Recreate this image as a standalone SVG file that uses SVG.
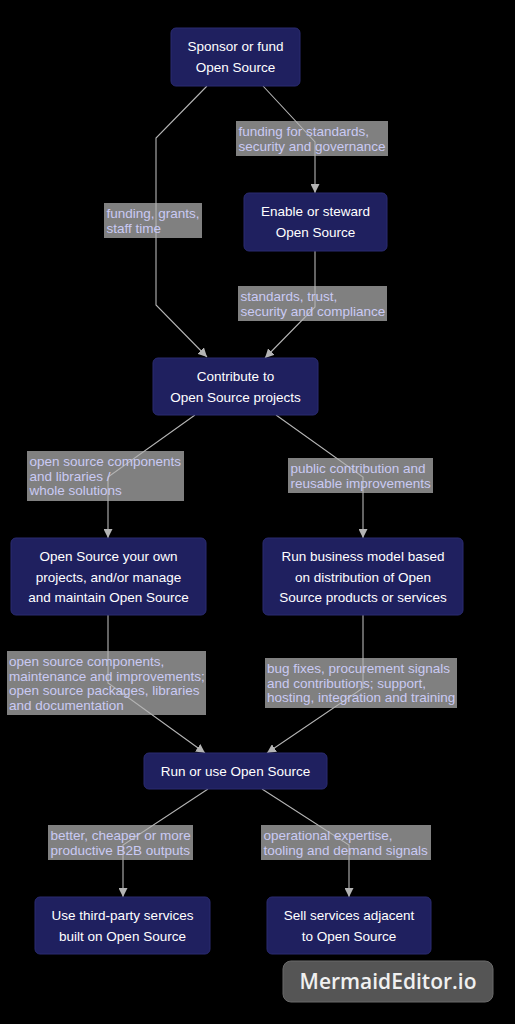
<svg xmlns="http://www.w3.org/2000/svg" width="515" height="1024" viewBox="0 0 515 1024">
<defs>
<style>
.node rect{fill:#1f205f;stroke:#2a2b70;stroke-width:1}
.node text{fill:#ffffff;font-family:"Liberation Sans",Arial,sans-serif;font-size:13.5px;text-anchor:middle}
.lbl rect{fill:#808080}
.lbl text{fill:#cacaf4;font-family:"Liberation Sans",Arial,sans-serif;font-size:13.5px}
.edge{fill:none;stroke:#b4b4b4;stroke-width:1.1}
</style>
<marker id="arr" viewBox="0 0 10 10" refX="10" refY="5" markerWidth="9" markerHeight="9" markerUnits="userSpaceOnUse" orient="auto">
<path d="M0,0 L10,5 L0,10 z" fill="#b4b4b4"/>
</marker>
</defs>
<rect x="0" y="0" width="515" height="1024" fill="#000"/>

<g id="label-backgrounds" class="lbl">
<rect x="104" y="203" width="98" height="35"/>
<rect x="236" y="121" width="152" height="35"/>
<rect x="238" y="286" width="149" height="35"/>
<rect x="27" y="451" width="157" height="50"/>
<rect x="288" y="458" width="145" height="35"/>
<rect x="7" y="651" width="199" height="64"/>
<rect x="265" y="658" width="192" height="50"/>
<rect x="48" y="825" width="145" height="35"/>
<rect x="261" y="825" width="170" height="35"/>
</g>

<g id="connectors">
<path class="edge" marker-end="url(#arr)" d="M207,86 L156,138 L156,305 L207,357"/>
<path class="edge" marker-end="url(#arr)" d="M263,86 L315,142 L315,193"/>
<path class="edge" marker-end="url(#arr)" d="M315,251 L315,307 L265,358"/>
<path class="edge" marker-end="url(#arr)" d="M195,415 L108,477 L108,538"/>
<path class="edge" marker-end="url(#arr)" d="M276,415 L363,477 L363,538"/>
<path class="edge" marker-end="url(#arr)" d="M108,615 L108,683 L205,753"/>
<path class="edge" marker-end="url(#arr)" d="M363,615 L363,688 L267,753"/>
<path class="edge" marker-end="url(#arr)" d="M208,789 L123,845 L123,897"/>
<path class="edge" marker-end="url(#arr)" d="M262,789 L349,845 L349,897"/>
</g>

<g id="edge-labels" class="lbl">
<text x="106.5" y="218">funding, grants,<tspan x="106.5" dy="14.5">staff time</tspan></text>
<text x="238.5" y="136">funding for standards,<tspan x="238.5" dy="14.5">security and governance</tspan></text>
<text x="240.5" y="301">standards, trust,<tspan x="240.5" dy="14.5">security and compliance</tspan></text>
<text x="29.5" y="466">open source components<tspan x="29.5" dy="14.5">and libraries /</tspan><tspan x="29.5" dy="14.5">whole solutions</tspan></text>
<text x="290.5" y="473">public contribution and<tspan x="290.5" dy="14.5">reusable improvements</tspan></text>
<text x="9" y="666">open source components,<tspan x="9" dy="14.5">maintenance and improvements;</tspan><tspan x="9" dy="14.5">open source packages, libraries</tspan><tspan x="9" dy="14.5">and documentation</tspan></text>
<text x="267" y="673">bug fixes, procurement signals<tspan x="267" dy="14.5">and contributions; support,</tspan><tspan x="267" dy="14.5">hosting, integration and training</tspan></text>
<text x="50.5" y="840">better, cheaper or more<tspan x="50.5" dy="14.5">productive B2B outputs</tspan></text>
<text x="263.5" y="840">operational expertise,<tspan x="263.5" dy="14.5">tooling and demand signals</tspan></text>
</g>

<g id="sponsor" class="node">
<rect x="171" y="28" width="129" height="58" rx="5"/>
<text x="235.5" y="51">Sponsor or fund</text>
<text x="235.5" y="72">Open Source</text>
</g>
<g id="enable" class="node">
<rect x="244" y="193" width="143" height="58" rx="5"/>
<text x="315.5" y="216">Enable or steward</text>
<text x="315.5" y="237">Open Source</text>
</g>
<g id="contribute" class="node">
<rect x="153" y="358" width="165" height="57" rx="5"/>
<text x="235.5" y="381">Contribute to</text>
<text x="235.5" y="402">Open Source projects</text>
</g>
<g id="own" class="node">
<rect x="11" y="538" width="195" height="77" rx="5"/>
<text x="108.5" y="561">Open Source your own</text>
<text x="108.5" y="581.5">projects, and/or manage</text>
<text x="108.5" y="602">and maintain Open Source</text>
</g>
<g id="business" class="node">
<rect x="263" y="538" width="200" height="77" rx="5"/>
<text x="363" y="561">Run business model based</text>
<text x="363" y="581.5">on distribution of Open</text>
<text x="363" y="602">Source products or services</text>
</g>
<g id="runuse" class="node">
<rect x="144" y="753" width="183" height="36" rx="5"/>
<text x="235.5" y="775.5">Run or use Open Source</text>
</g>
<g id="thirdparty" class="node">
<rect x="35" y="897" width="175" height="57" rx="5"/>
<text x="122.5" y="920">Use third-party services</text>
<text x="122.5" y="940.5">built on Open Source</text>
</g>
<g id="sell" class="node">
<rect x="267" y="897" width="164" height="57" rx="5"/>
<text x="349" y="920">Sell services adjacent</text>
<text x="349" y="940.5">to Open Source</text>
</g>

<g id="watermark">
<rect x="283" y="961" width="210" height="41" rx="8" fill="#555555" stroke="#6a6a6a" stroke-width="1"/>
<text x="388" y="988.5" fill="#f0f0f0" font-family="'Open Sans','Noto Sans',sans-serif" font-weight="600" font-size="21" text-anchor="middle">MermaidEditor.io</text>
</g>
</svg>
